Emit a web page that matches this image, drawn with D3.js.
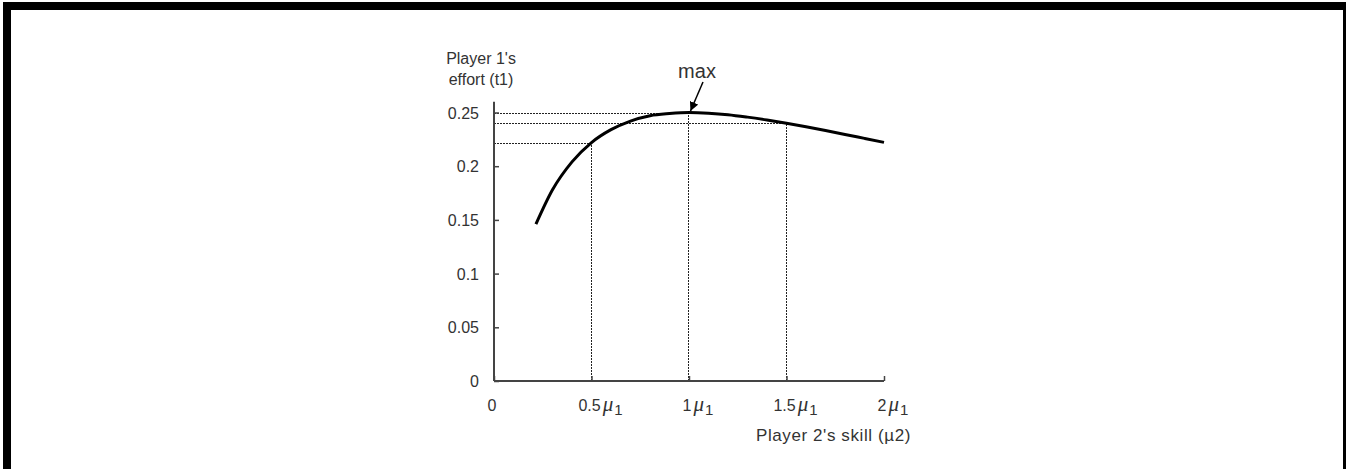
<!DOCTYPE html>
<html>
<head>
<meta charset="utf-8">
<script src="https://cdn.jsdelivr.net/npm/d3@7"></script>
<style>
  body { margin: 0; background: #fff; }
  text { font-family: "Liberation Sans", Arial, sans-serif; fill: #333; }
</style>
</head>
<body>
<div id="container"></div>
<script>
/* DATA */
const skill  = [0.215, 0.3, 0.4, 0.5, 0.6, 0.7, 0.8, 0.9, 1.0, 1.1, 1.2, 1.3, 1.4, 1.5, 1.6, 1.7, 1.8, 1.9, 2.0];
const effort = [0.146, 0.178, 0.204, 0.222, 0.234, 0.242, 0.247, 0.249, 0.25, 0.2494, 0.248, 0.2457, 0.243, 0.24, 0.2367, 0.2332, 0.2296, 0.2259, 0.2222];
const refSkill  = [0.5, 1, 1.5];
const refEffort = [0.222, 0.25, 0.24];
const xTicks = [0, 0.5, 1, 1.5, 2];
const xTickLabels = ["0", "0.5", "1", "1.5", "2"];
const yTicks = [0, 0.05, 0.1, 0.15, 0.2, 0.25];
const yTickLabels = ["0", "0.05", "0.1", "0.15", "0.2", "0.25"];

/* CONSTANTS */
const width = 1346, height = 469;

const svg = d3.select("#container").append("svg")
  .attr("width", width)
  .attr("height", height);

// frame (cropped at right and bottom)
svg.append("rect")
  .attr("x", 7).attr("y", 6)
  .attr("width", 1340).attr("height", 520)
  .attr("fill", "none")
  .attr("stroke", "#000")
  .attr("stroke-width", 8);

/* SCALES */
const x = d3.scaleLinear().domain([0, 2]).range([494, 884]);
const y = d3.scaleLinear().domain([0, 0.26]).range([381, 381 - 0.26 * 1074]);

// dotted guide lines
const guides = svg.append("g")
  .attr("stroke", "#222")
  .attr("stroke-width", 1)
  .attr("stroke-dasharray", "2,1");

refSkill.forEach((s, i) => {
  const yy = Math.round(y(refEffort[i])) + 0.5;
  const xx = Math.round(x(s)) - 0.5;
  guides.append("line")
    .attr("x1", x(0)).attr("x2", xx)
    .attr("y1", yy).attr("y2", yy);
  guides.append("line")
    .attr("x1", xx).attr("x2", xx)
    .attr("y1", y(0)).attr("y2", yy);
});

/* AXES */
const xAxis = d3.axisTop(x).tickValues(xTicks).tickSize(5).tickFormat("");
const yAxis = d3.axisRight(y).tickValues(yTicks).tickSize(5).tickFormat("");

const gx = svg.append("g")
  .attr("transform", `translate(0,${y(0)})`)
  .call(xAxis);
const gy = svg.append("g")
  .attr("transform", `translate(${x(0)},0)`)
  .call(yAxis);

[gx, gy].forEach(g => {
  g.select(".domain").attr("stroke", "#444").attr("stroke-width", 2);
  g.selectAll(".tick line").attr("stroke", "#444").attr("stroke-width", 1.5);
});
gx.select(".domain").attr("d", `M${x(0)},0H${x(2)}`);
gy.select(".domain").attr("d", `M0,${y(0.26)}V${y(0)}`);

// y tick labels
svg.append("g").selectAll("text")
  .data(yTicks)
  .join("text")
  .attr("x", x(0) - 15)
  .attr("y", d => y(d) + 6)
  .attr("text-anchor", "end")
  .attr("font-size", 16)
  .text((d, i) => yTickLabels[i]);

// x tick labels: number + mu_1
const xl = svg.append("g");
xTicks.forEach((t, i) => {
  const num = xl.append("text")
    .attr("x", x(t) - 2)
    .attr("y", 411)
    .attr("text-anchor", "middle")
    .attr("font-size", 16)
    .text(xTickLabels[i]);
  if (t === 0) return;
  const w = num.node().getComputedTextLength();
  const mu = xl.append("text")
    .attr("x", x(t) - 2 + w / 2 + 2)
    .attr("y", 411)
    .attr("font-size", 16);
  mu.append("tspan")
    .style("font-family", "'Liberation Serif', serif")
    .style("font-style", "italic")
    .attr("font-size", 21)
    .text("\u03bc");
  mu.append("tspan")
    .attr("font-size", 15)
    .attr("dx", 1)
    .attr("dy", 4)
    .text("1");
});

// axis titles
svg.append("text")
  .attr("x", 911).attr("y", 441)
  .attr("text-anchor", "end")
  .attr("font-size", 17)
  .attr("letter-spacing", 0.6)
  .text("Player 2's skill (\u00b52)");

const yTitle = svg.append("text")
  .attr("text-anchor", "middle")
  .attr("font-size", 16);
yTitle.append("tspan").attr("x", 481).attr("y", 64).text("Player 1's");
yTitle.append("tspan").attr("x", 481).attr("y", 85).text("effort (t1)");

/* CURVE */
const line = d3.line()
  .x(d => x(d[0]))
  .y(d => y(d[1]))
  .curve(d3.curveMonotoneX);

svg.append("path")
  .datum(d3.zip(skill, effort))
  .attr("d", line)
  .attr("fill", "none")
  .attr("stroke", "#000")
  .attr("stroke-width", 3);

/* MAX ANNOTATION */
svg.append("defs").append("marker")
  .attr("id", "arrow")
  .attr("viewBox", "0 0 10 10")
  .attr("refX", 10).attr("refY", 5)
  .attr("markerWidth", 9).attr("markerHeight", 9)
  .attr("markerUnits", "userSpaceOnUse")
  .attr("orient", "auto")
  .append("path")
  .attr("d", "M0,0L10,5L0,10Z")
  .attr("fill", "#000");

svg.append("text")
  .attr("x", x(1) + 8).attr("y", 78)
  .attr("text-anchor", "middle")
  .attr("font-size", 20)
  .text("max");

svg.append("line")
  .attr("x1", x(1) + 14).attr("y1", 82)
  .attr("x2", x(1) + 1.5).attr("y2", y(0.25) - 1.5)
  .attr("stroke", "#000")
  .attr("stroke-width", 1.5)
  .attr("marker-end", "url(#arrow)");
</script>
</body>
</html>
